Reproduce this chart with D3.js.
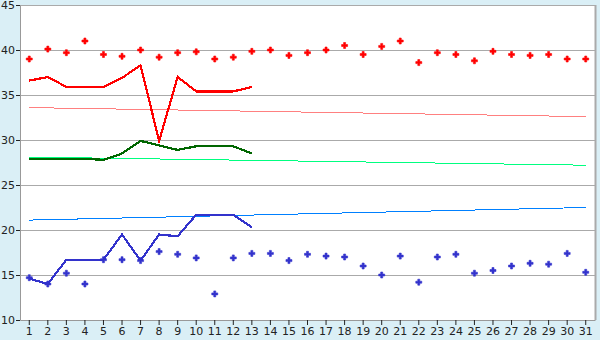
<!DOCTYPE html>
<html>
<head>
<meta charset="utf-8">
<script src="https://cdn.jsdelivr.net/npm/d3@7"></script>
<style>
  body { margin: 0; background: #daeff6; }
  svg { display: block; }
  .tick text { font-family: "DejaVu Sans", sans-serif; font-size: 11px; fill: #222; }
</style>
</head>
<body>
<div id="chart"></div>
<script>
// data
let days = d3.range(1, 32);
let redPoints = [39.0, 40.1, 39.7, 41.0, 39.5, 39.3, 40.0, 39.2, 39.7, 39.8,
  39.0, 39.2, 39.85, 40.0, 39.4, 39.7, 40.0, 40.5, 39.5, 40.4,
  41.0, 38.6, 39.7, 39.5, 38.8, 39.85, 39.5, 39.4, 39.5, 39.0, 39.0];
let redLine = [36.6, 37.0, 35.9, 35.9, 35.9, 36.9, 38.3, 29.9, 37.0, 35.4, 35.4, 35.4, 35.9];
let greenLine = [27.9, 27.9, 27.9, 27.9, 27.8, 28.5, 29.9, 29.4, 28.9, 29.3, 29.3, 29.3, 28.5];
let blueLine = [14.6, 14.0, 16.7, 16.7, 16.7, 19.5, 16.6, 19.5, 19.3, 21.7, 21.7, 21.7, 20.3];
let bluePoints = [14.7, 14.0, 15.2, 14.0, 16.7, 16.7, 16.6, 17.6, 17.3, 16.9,
  12.9, 16.9, 17.4, 17.4, 16.6, 17.3, 17.1, 17.0, 16.0, 15.0,
  17.1, 14.2, 17.0, 17.3, 15.2, 15.5, 16.0, 16.3, 16.2, 17.4, 15.3];
// trend lines: value at day 1 and day 31
let redTrend = [33.6, 32.6];
let greenTrend = [28.1, 27.2];
let blueTrend = [21.1, 22.5];
let yTicks = [10, 15, 20, 25, 30, 35, 40, 45];

let margin = { top: 5, right: 5, bottom: 20, left: 20 },
  width = 600 - margin.left - margin.right,
  height = 340 - margin.top - margin.bottom;

let svg = d3.select("#chart").append("svg")
  .attr("width", 600).attr("height", 340)
  .append("g")
  .attr("transform", "translate(" + margin.left + "," + margin.top + ")");

let x = d3.scaleBand().domain(days).range([0, width]);
let y = d3.scaleLinear().domain([10, 45]).range([height, 0]);
let cx = d => x(d) + x.bandwidth() / 2;

// plot background
svg.append("rect")
  .attr("width", width).attr("height", height)
  .attr("fill", "#fff");

// gridlines
svg.append("g")
  .selectAll("line")
  .data(yTicks.filter(t => t > 10))
  .join("line")
  .attr("x1", 0).attr("x2", width)
  .attr("y1", d => Math.round(y(d)) + 0.5).attr("y2", d => Math.round(y(d)) + 0.5)
  .attr("stroke", "#aaa");

// right border
svg.append("line")
  .attr("x1", width + 0.5).attr("x2", width + 0.5)
  .attr("y1", 0).attr("y2", height)
  .attr("stroke", "#aaa").attr("stroke-width", 2);

// axes
let xAxis = svg.append("g")
  .attr("transform", "translate(0," + height + ")")
  .call(d3.axisBottom(x).tickSize(5).tickPadding(2).tickSizeOuter(0));
xAxis.select(".domain").attr("stroke", "#999");
xAxis.selectAll(".tick line").attr("stroke", "#222");

let yAxis = svg.append("g")
  .call(d3.axisLeft(y).tickValues(yTicks).tickSize(4).tickPadding(1).tickSizeOuter(0));
yAxis.select(".domain").attr("stroke", "#999");
yAxis.selectAll(".tick line").attr("stroke", "#222");

// trend lines
function trend(vals, color) {
  svg.append("line")
    .attr("x1", cx(1)).attr("x2", cx(31))
    .attr("y1", y(vals[0])).attr("y2", y(vals[1]))
    .attr("stroke", color).attr("stroke-width", 1)
    .attr("shape-rendering", "crispEdges");
}
trend(redTrend, "#ff8080");
trend(greenTrend, "#00ff80");
trend(blueTrend, "#0080ff");

// series lines
let line = d3.line().x((d, i) => cx(days[i])).y(d => y(d));
function series(vals, color) {
  svg.append("path")
    .datum(vals)
    .attr("d", line)
    .attr("fill", "none")
    .attr("stroke", color).attr("stroke-width", 2.2)
    .attr("shape-rendering", "crispEdges");
}
series(redLine, "#ff0000");
series(greenLine, "#006600");
series(blueLine, "#3333cc");

// point markers
let marker = d3.symbol().type(d3.symbolCross).size(20);
function points(vals, color) {
  svg.append("g")
    .selectAll("path")
    .data(vals)
    .join("path")
    .attr("d", marker)
    .attr("transform", (d, i) => "translate(" + cx(days[i]) + "," + y(d) + ")")
    .attr("fill", color)
    .attr("stroke", color).attr("stroke-width", 0.6);
}
points(redPoints, "#ff0000");
points(bluePoints, "#3333cc");
</script>
</body>
</html>
